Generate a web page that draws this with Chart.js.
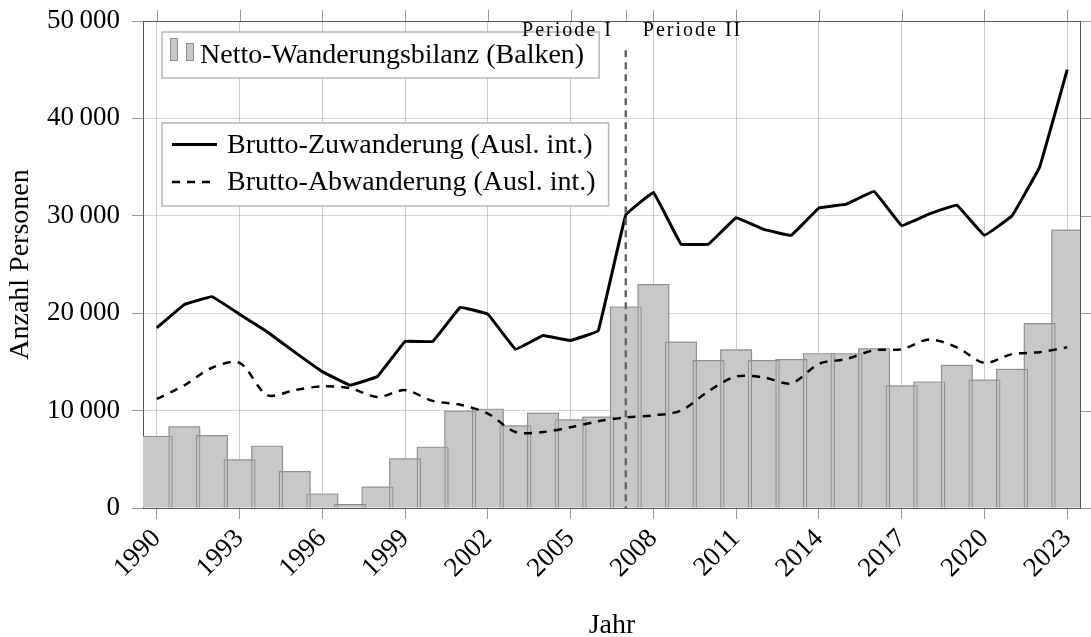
<!DOCTYPE html>
<html>
<head>
<meta charset="utf-8">
<script src="https://cdn.jsdelivr.net/npm/chart.js@4.4.1/dist/chart.umd.min.js"></script>
<style>
  html, body { margin: 0; padding: 0; background: #fff; }
</style>
</head>
<body>
<canvas id="chart" width="1091" height="637"></canvas>
<script>
// Daten
const years = [1990, 1991, 1992, 1993, 1994, 1995, 1996, 1997, 1998, 1999,
  2000, 2001, 2002, 2003, 2004, 2005, 2006, 2007, 2008, 2009,
  2010, 2011, 2012, 2013, 2014, 2015, 2016, 2017, 2018, 2019,
  2020, 2021, 2022, 2023];
const netto = [7400, 8400, 7500, 5000, 6400, 3800, 1500, 400, 2200, 5100,
  6300, 10000, 10200, 8500, 9800, 9100, 9400, 20700, 23000, 17100,
  15200, 16300, 15200, 15300, 15900, 15900, 16400, 12600, 13000, 14700,
  13200, 14300, 19000, 28600];
const zuwanderung = [18500, 20900, 21700, 19900, 18100, 16000, 14000, 12600, 13500, 17100,
  17100, 20600, 19900, 16300, 17700, 17200, 18200, 30100, 32400, 27100,
  27100, 29800, 28600, 28000, 30800, 31200, 32500, 29000, 30200, 31100,
  28000, 30000, 35000, 45000];
const abwanderung = [11200, 12600, 14400, 14900, 11600, 12100, 12500, 12300, 11400, 12100,
  11000, 10600, 9700, 7800, 7800, 8300, 8900, 9300, 9500, 10000,
  12000, 13500, 13400, 12800, 14800, 15300, 16200, 16300, 17300, 16500,
  14900, 15800, 16000, 16500];
const yMax = 50000;
const yStep = 10000;
const tickEvery = 3;          // jede 3. Jahreszahl beschriftet
const periodYear = 2007;       // Trennlinie Periode I / II
const periodTop = 47000;
const periodLabels = ['Periode I', 'Periode II'];

const FONT = '"Liberation Serif", "Times New Roman", serif';
const fmt = v => String(v).replace(/\B(?=(\d{3})+(?!\d))/g, '\u2009');

Chart.defaults.font.family = FONT;
Chart.defaults.font.size = 27;
Chart.defaults.color = '#000';

// Rahmen, gespiegelte Ticks, Periodenlinie und Legenden
const extras = {
  id: 'extras',
  afterDatasetsDraw(chart) {
    const { ctx, chartArea: a, scales: { x, y } } = chart;
    ctx.save();
    // Rahmen oben/rechts
    ctx.strokeStyle = '#555'; ctx.lineWidth = 1;
    ctx.beginPath();
    ctx.moveTo(a.left, a.top + 0.5); ctx.lineTo(a.right, a.top + 0.5);
    ctx.moveTo(a.right - 0.5, a.top); ctx.lineTo(a.right - 0.5, a.bottom);
    ctx.stroke();
    // gespiegelte Ticks
    ctx.strokeStyle = '#999';
    ctx.beginPath();
    years.forEach((yr, i) => {
      if (i % tickEvery === 0 || yr === periodYear) {
        const px = Math.round(x.getPixelForValue(i)) + 0.5;
        ctx.moveTo(px, a.top - 11); ctx.lineTo(px, a.top);
      }
    });
    y.ticks.forEach(t => {
      const py = Math.round(y.getPixelForValue(t.value)) + 0.5;
      ctx.moveTo(a.right, py); ctx.lineTo(a.right + 11, py);
    });
    ctx.stroke();

    // Periodenlinie
    const lx = x.getPixelForValue(years.indexOf(periodYear));
    ctx.strokeStyle = '#666'; ctx.lineWidth = 2.5; ctx.setLineDash([7, 5]);
    ctx.beginPath();
    ctx.moveTo(lx, y.getPixelForValue(periodTop)); ctx.lineTo(lx, y.getPixelForValue(0));
    ctx.stroke();
    ctx.setLineDash([]);

    // Legende 1 (Balken)
    const ds = chart.data.datasets;
    ctx.font = '28px ' + FONT;
    ctx.textBaseline = 'alphabetic';
    const bx = 162;
    let t1 = ds[0].label, w1 = ctx.measureText(t1).width;
    ctx.fillStyle = '#fff'; ctx.strokeStyle = '#b8b8b8'; ctx.lineWidth = 1.5;
    ctx.fillRect(bx, 32, 38 + w1 + 15, 46);
    ctx.strokeRect(bx, 32, 38 + w1 + 15, 46);
    ctx.fillStyle = '#c8c8c8'; ctx.strokeStyle = '#8e8e8e'; ctx.lineWidth = 1;
    ctx.fillRect(170.5, 38.5, 7, 22); ctx.strokeRect(170.5, 38.5, 7, 22);
    ctx.fillRect(186.5, 43.5, 7, 17); ctx.strokeRect(186.5, 43.5, 7, 17);
    ctx.fillStyle = '#000'; ctx.textAlign = 'left';
    ctx.fillText(t1, bx + 38, 63);

    // Legende 2 (Linien)
    const t2 = ds[2].label, t3 = ds[3].label;
    const w2 = Math.max(ctx.measureText(t2).width, ctx.measureText(t3).width);
    ctx.fillStyle = '#fff'; ctx.strokeStyle = '#b8b8b8'; ctx.lineWidth = 1.5;
    ctx.fillRect(bx, 123, 65 + w2 + 13, 83);
    ctx.strokeRect(bx, 123, 65 + w2 + 13, 83);
    ctx.strokeStyle = '#000';
    ctx.lineWidth = 3;
    ctx.beginPath(); ctx.moveTo(172, 144.5); ctx.lineTo(217, 144.5); ctx.stroke();
    ctx.lineWidth = 2.5; ctx.setLineDash([8, 7]);
    ctx.beginPath(); ctx.moveTo(172, 182); ctx.lineTo(217, 182); ctx.stroke();
    ctx.setLineDash([]);
    ctx.fillStyle = '#000';
    ctx.fillText(t2, bx + 65, 153);
    ctx.fillText(t3, bx + 65, 190);

    // Periodenbeschriftung (über den Legenden)
    ctx.font = '20px ' + FONT;
    if ('letterSpacing' in ctx) ctx.letterSpacing = '2px';
    ctx.textAlign = 'right';
    ctx.fillText(periodLabels[0], lx - 13, a.top + 15);
    ctx.textAlign = 'left';
    ctx.fillText(periodLabels[1], lx + 17, a.top + 15);
    if ('letterSpacing' in ctx) ctx.letterSpacing = '0px';
    ctx.restore();
  }
};

const barStyle = { grouped: false, barPercentage: 1.16, categoryPercentage: 1, clip: 0 };

new Chart(document.getElementById('chart'), {
  type: 'bar',
  data: {
    labels: years.map(String),
    datasets: [
      Object.assign({ label: 'Netto-Wanderungsbilanz (Balken)', data: netto,
        backgroundColor: '#c8c8c8', borderWidth: 0, order: 4 }, barStyle),
      Object.assign({ label: 'Netto-Wanderungsbilanz (Rand)', data: netto,
        backgroundColor: 'rgba(0,0,0,0)', borderColor: '#8e8e8e', borderWidth: 1.2, order: 3 }, barStyle),
      { type: 'line', label: 'Brutto-Zuwanderung (Ausl. int.)', data: zuwanderung,
        borderColor: '#000', borderWidth: 3, pointRadius: 0, tension: 0.05, order: 1 },
      { type: 'line', label: 'Brutto-Abwanderung (Ausl. int.)', data: abwanderung,
        borderColor: '#000', borderWidth: 2.5, borderDash: [8, 7], pointRadius: 0, tension: 0.3, order: 2 }
    ]
  },
  options: {
    responsive: false,
    animation: false,
    devicePixelRatio: 1,
    layout: { padding: { top: 21, right: 10, left: 0, bottom: 0 } },
    plugins: { legend: { display: false }, tooltip: { enabled: false } },
    scales: {
      x: {
        offset: true,
        grid: {
          offset: false,
          color: c => (c.index % tickEvery === 0 ? 'rgba(0,0,0,0.2)' : 'rgba(0,0,0,0)'),
          tickColor: c => (c.index % tickEvery === 0 ? '#999' : 'rgba(0,0,0,0)'),
          tickLength: 11
        },
        border: { color: '#555' },
        ticks: {
          autoSkip: false, maxRotation: 45, minRotation: 45, padding: 4,
          callback: function (v, i) { return i % tickEvery === 0 ? this.getLabelForValue(v) : ''; }
        },
        title: { display: true, text: 'Jahr', font: { size: 28, lineHeight: 0.8 }, padding: { top: 0, bottom: 0 } },
        afterFit: s => { s.height = 129; s.paddingLeft = 0; s.paddingRight = 0; }
      },
      y: {
        min: 0, max: yMax,
        grid: { color: 'rgba(0,0,0,0.15)', tickColor: '#999', tickLength: 11 },
        border: { color: '#555' },
        ticks: { stepSize: yStep, padding: 12, callback: v => fmt(v) },
        title: { display: true, text: 'Anzahl Personen', font: { size: 28 }, padding: { top: 4, bottom: 0 } },
        afterFit: s => { s.width = 143; s.paddingTop = 0; s.paddingBottom = 0; }
      }
    }
  },
  plugins: [extras]
});
</script>
</body>
</html>
